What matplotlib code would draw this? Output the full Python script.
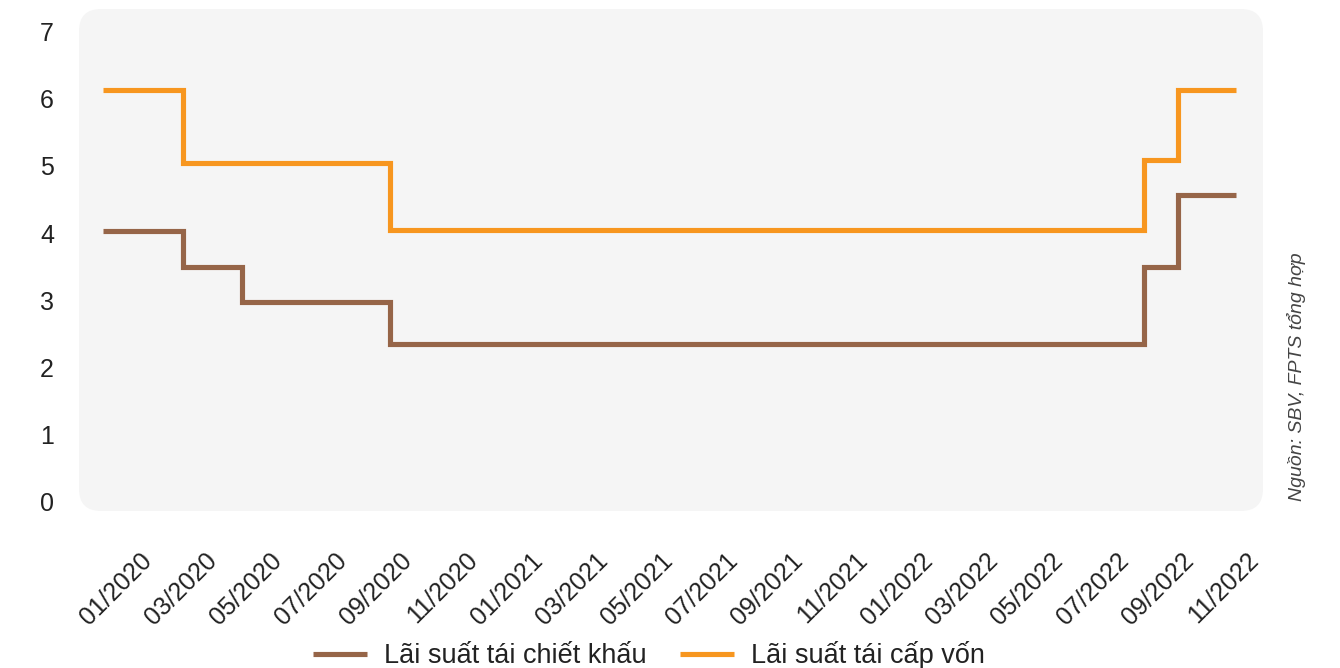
import numpy as np
import pandas as pd
import matplotlib
matplotlib.use("Agg")
import matplotlib.pyplot as plt
import matplotlib.dates as mdates
from matplotlib.patches import FancyBboxPatch

plt.rcParams['font.family'] = ['Liberation Sans', 'DejaVu Sans']

# rate change dates (step series, value holds until next date)
change_dates = ['2020-01-01', '2020-03-17', '2020-05-13', '2020-10-01',
                '2022-09-23', '2022-10-25', '2022-12-20']
discount_rate = [4.03, 3.49, 2.98, 2.35, 3.49, 4.57, 4.57]
refinance_rate = [6.13, 5.04, 5.04, 4.04, 5.09, 6.13, 6.13]

tick_labels = ['01/2020', '03/2020', '05/2020', '07/2020', '09/2020', '11/2020',
               '01/2021', '03/2021', '05/2021', '07/2021', '09/2021', '11/2021',
               '01/2022', '03/2022', '05/2022', '07/2022', '09/2022', '11/2022']

series_names = ['Lãi suất tái chiết khấu', 'Lãi suất tái cấp vốn']
colors = ['#966548', '#F7961F']
source_note = 'Nguồn: SBV, FPTS tổng hợp'

W, H = 1340, 668
fig = plt.figure(figsize=(W / 100, H / 100), dpi=100)
ax = fig.add_axes([79 / W, 157 / H, (1263 - 79) / W, (511 - 9) / H])
ax.patch.set_visible(False)
for s in ax.spines.values():
    s.set_visible(False)

# light rounded panel behind the plot
panel = FancyBboxPatch((79 / W, 157 / H), (1263 - 79) / W, (511 - 9) / H,
                       boxstyle="round,pad=0,rounding_size=%f" % (22 / W),
                       mutation_aspect=W / H, transform=fig.transFigure,
                       facecolor='#F5F5F5', edgecolor='none', zorder=0,
                       clip_on=False)
ax.add_patch(panel)

x = mdates.date2num(pd.to_datetime(change_dates))
for vals, name, c in zip([discount_rate, refinance_rate], series_names, colors):
    ax.step(x, vals, where='post', color=c, lw=3.7, label=name,
            solid_joinstyle='miter', solid_capstyle='butt', zorder=3)

x0 = x[0]
ax.set_xlim(x0 - 23.3, x0 + 1109.7)
ax.set_ylim(-0.139, 7.338)

ax.set_yticks(range(0, 8))
ax.tick_params(axis='y', length=0, pad=18, labelsize=18, labelcolor='#222222')

ax.set_xticks(np.linspace(x0 + 42.8, x0 + 1101.8, len(tick_labels)))
ax.set_xticklabels(tick_labels, rotation=45, ha='right', va='center',
                   rotation_mode='anchor')
ax.tick_params(axis='x', length=0, pad=33, labelsize=18, labelcolor='#222222')

fig.text(1297 / W, 1 - 377 / H, source_note, rotation=90, ha='center',
         va='center', fontsize=14, style='italic', color='#444444')

ax.legend(loc='center', bbox_to_anchor=(649 / W, 13 / H),
          bbox_transform=fig.transFigure, ncol=2, frameon=False,
          fontsize=19.5, handlelength=2.0, handletextpad=0.65,
          columnspacing=1.2, labelcolor='#222222')

fig.savefig('out.png', dpi=100)
